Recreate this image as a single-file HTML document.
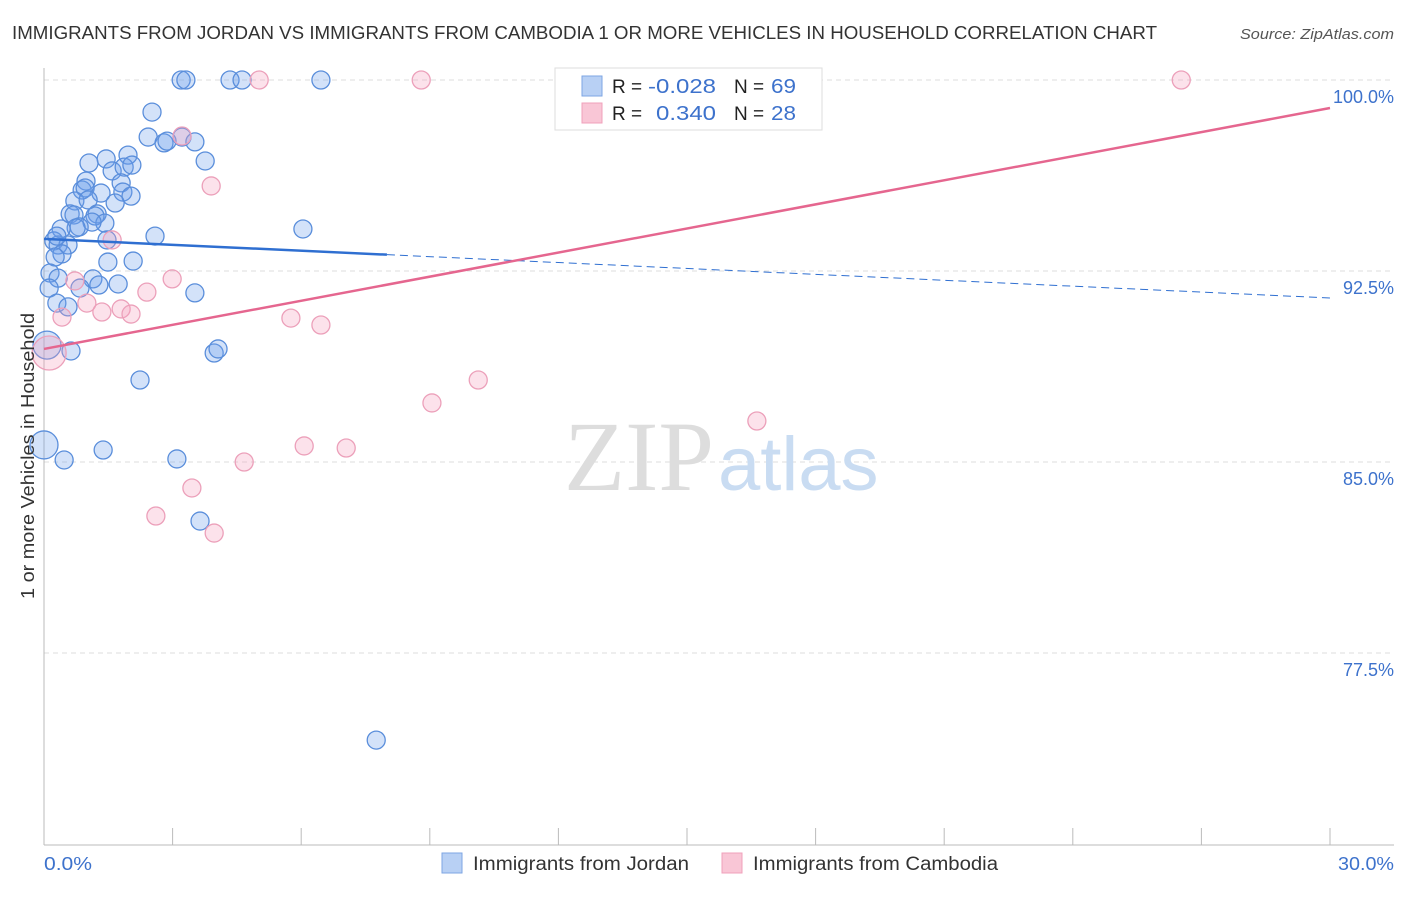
<!DOCTYPE html>
<html><head><meta charset="utf-8"><style>
body{margin:0;background:#fff;font-family:"Liberation Sans",sans-serif;}
</style></head><body>
<svg width="1406" height="892" xmlns="http://www.w3.org/2000/svg" font-family="Liberation Sans, sans-serif">
<text x="12" y="39" font-size="18" fill="#333" textLength="1145" lengthAdjust="spacingAndGlyphs">IMMIGRANTS FROM JORDAN VS IMMIGRANTS FROM CAMBODIA 1 OR MORE VEHICLES IN HOUSEHOLD CORRELATION CHART</text>
<text x="1240" y="39" font-size="15" fill="#555" font-style="italic" textLength="154" lengthAdjust="spacingAndGlyphs">Source: ZipAtlas.com</text>
<g id="grid"></g>
<text x="714" y="490" font-size="100" fill="#ddd" text-anchor="end" font-family="Liberation Serif, serif">ZIP</text>
<text x="718" y="490" font-size="76" fill="#c9dcf2">atlas</text>
<g id="axes"></g>
<g id="pts"></g>
<g id="lines"></g>
<text transform="translate(34,456) rotate(-90)" font-size="18" fill="#333" text-anchor="middle" textLength="286" lengthAdjust="spacingAndGlyphs">1 or more Vehicles in Household</text>
<text x="44" y="870" font-size="18" fill="#3d72cc" textLength="48" lengthAdjust="spacingAndGlyphs">0.0%</text>
<text x="1338" y="870" font-size="18" fill="#3d72cc" textLength="56" lengthAdjust="spacingAndGlyphs">30.0%</text>
<g>
<rect x="555" y="68" width="267" height="62" fill="#fff" stroke="#ddd"/>
<rect x="582" y="76" width="20" height="20" fill="#b8d0f4" stroke="#7ea6e3"/>
<rect x="582" y="103" width="20" height="20" fill="#f9c6d6" stroke="#f0a0bb"/>
<text x="612" y="93" font-size="19" fill="#222">R =</text>
<text x="648" y="93" font-size="20" fill="#3d72cc" textLength="68" lengthAdjust="spacingAndGlyphs">-0.028</text>
<text x="734" y="93" font-size="19" fill="#222">N =</text>
<text x="771" y="93" font-size="20" fill="#3d72cc" textLength="25" lengthAdjust="spacingAndGlyphs">69</text>
<text x="612" y="120" font-size="19" fill="#222">R =</text>
<text x="656" y="120" font-size="20" fill="#3d72cc" textLength="60" lengthAdjust="spacingAndGlyphs">0.340</text>
<text x="734" y="120" font-size="19" fill="#222">N =</text>
<text x="771" y="120" font-size="20" fill="#3d72cc" textLength="25" lengthAdjust="spacingAndGlyphs">28</text>
</g>
<g>
<rect x="442" y="853" width="20" height="20" fill="#b8d0f4" stroke="#7ea6e3"/>
<text x="473" y="870" font-size="19" fill="#333" textLength="216" lengthAdjust="spacingAndGlyphs">Immigrants from Jordan</text>
<rect x="722" y="853" width="20" height="20" fill="#f9c6d6" stroke="#f0a0bb"/>
<text x="753" y="870" font-size="19" fill="#333" textLength="245" lengthAdjust="spacingAndGlyphs">Immigrants from Cambodia</text>
</g>
</svg>
<script>
const yTicks=[100,92.5,85,77.5];
const yTickLabels=["100.0%","92.5%","85.0%","77.5%"];
const xTicks=[0,3,6,9,12,15,18,21,24,27,30];
const jordanX=[3.20,3.31,4.34,4.62,6.46,2.52,2.43,2.80,2.87,3.22,3.52,3.76,1.05,1.45,1.96,1.59,1.87,2.05,0.98,1.80,0.89,0.96,1.33,1.84,2.03,1.66,0.72,1.03,0.61,0.70,1.24,1.19,1.42,1.12,0.82,0.75,0.40,2.59,6.04,0.23,0.33,0.56,0.42,0.26,1.47,1.49,2.08,0.14,0.33,1.14,0.12,0.84,1.28,1.73,0.30,0.56,3.52,0.07,0.63,3.97,4.06,2.24,0,0.47,1.38,3.10,3.64,7.75,0.30];
const jordanY=[100,100,100,100,100,98.74,97.76,97.53,97.60,97.76,97.57,96.82,96.74,96.90,97.05,96.43,96.58,96.66,96.03,95.96,95.68,95.76,95.56,95.60,95.44,95.17,95.25,95.29,94.74,94.70,94.74,94.66,94.38,94.42,94.23,94.19,94.15,93.87,94.15,93.68,93.52,93.52,93.17,93.05,93.72,92.85,92.89,92.42,92.22,92.19,91.83,91.83,91.95,91.99,91.24,91.09,91.64,89.59,89.36,89.28,89.44,88.22,85.67,85.08,85.47,85.12,82.68,74.08,93.87];
const cambX=[5.02,8.80,26.53,3.22,3.90,1.59,0.72,2.99,2.40,1.00,0.42,1.35,1.80,2.03,5.76,6.46,0.12,10.13,9.05,16.63,6.07,7.05,4.67,3.45,2.61,3.97];
const cambY=[100,100,100,97.80,95.84,93.72,92.11,92.19,91.67,91.24,90.69,90.89,91.01,90.81,90.65,90.38,89.28,88.22,87.32,86.61,85.63,85.55,85.00,83.98,82.88,82.21];
const jordanTrend=[93.76,91.44];
const cambTrend=[89.44,98.90];
const NS="http://www.w3.org/2000/svg";
const X=v=>44+v/30*1286;
const Y=v=>80+(100-v)/7.5*191;
function mk(tag,attrs,parent){const e=document.createElementNS(NS,tag);for(const k in attrs)e.setAttribute(k,attrs[k]);document.getElementById(parent).appendChild(e);return e;}
yTicks.forEach((t,i)=>{
 const l=mk('line',{x1:44,x2:1394,y1:Y(t),y2:Y(t),stroke:'#ddd','stroke-dasharray':'5,4'},'grid');
 
 
 const tx=mk('text',{x:1394,y:Y(t)+23,'font-size':18,fill:'#3d72cc','text-anchor':'end'},'grid');
 tx.textContent=yTickLabels[i];
 
 
});
const ya=mk('line',{x1:44,x2:44,y1:68,y2:845,stroke:'#bbb'},'axes');


const xa=mk('line',{x1:44,x2:1394,y1:845,y2:845,stroke:'#bbb'},'axes');


xTicks.forEach(t=>{
 const l=mk('line',{x1:X(t),x2:X(t),y1:828,y2:845,stroke:'#bbb'},'axes');
 
 
});
function pts(xs,ys,fill,stroke,name){
 xs.forEach((x,i)=>{
  const big=(x<0.15&&ys[i]<90&&ys[i]>85)||(x===0);
  const c=mk('circle',{cx:X(x),cy:Y(ys[i]),r:big?(name==='cambodia-point'?17:14):9,fill:fill,stroke:stroke,'stroke-width':1.3},'pts');
  
  
 });
}
pts(jordanX,jordanY,'rgba(110,160,235,0.3)','#5a8edb','jordan-point');
pts(cambX,cambY,'rgba(245,160,190,0.3)','#eca0ba','cambodia-point');
const jy=x=>jordanTrend[0]+(jordanTrend[1]-jordanTrend[0])*x/30;
const l1=mk('line',{x1:X(0),y1:Y(jy(0)),x2:X(8),y2:Y(jy(8)),stroke:'#2f6fd1','stroke-width':2.5},'lines');


const l2=mk('line',{x1:X(8),y1:Y(jy(8)),x2:X(30),y2:Y(jy(30)),stroke:'#2f6fd1','stroke-width':1,'stroke-dasharray':'8,5'},'lines');


const l3=mk('line',{x1:X(0),y1:Y(cambTrend[0]),x2:X(30),y2:Y(cambTrend[1]),stroke:'#e5668f','stroke-width':2.5},'lines');


</script>
</body></html>
